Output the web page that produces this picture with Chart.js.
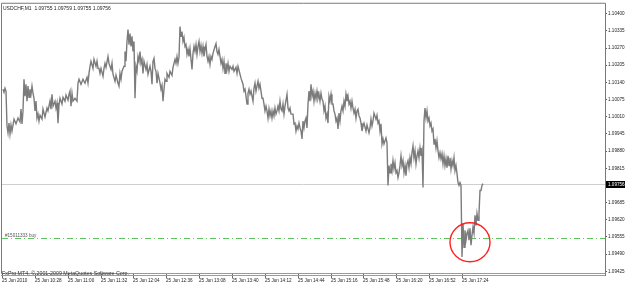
<!DOCTYPE html>
<html><head><meta charset="utf-8">
<script src="https://cdn.jsdelivr.net/npm/chart.js@4.4.0/dist/chart.umd.min.js"></script>
<style>html,body{margin:0;padding:0;background:#fff;overflow:hidden}</style>
</head><body>
<canvas id="c" width="625" height="287"></canvas>
<script>
// ---------- data ----------
const symbolTitle = "USDCHF,M1  1.09755 1.09759 1.09755 1.09756";
const copyrightText = "FxPro MT4, \u00a9 2001-2009 MetaQuotes Software Corp.";
const timeLabels = ["25 Jun 2010","25 Jun 10:28","25 Jun 11:00","25 Jun 11:32","25 Jun 12:04","25 Jun 12:36","25 Jun 13:08","25 Jun 13:40","25 Jun 14:12","25 Jun 14:44","25 Jun 15:16","25 Jun 15:48","25 Jun 16:20","25 Jun 16:52","25 Jun 17:24"];
const timeLabelBars = [2,35,68,101,133,166,199,232,265,298,331,363,396,429,462];
const priceTicks = [1.09425,1.09490,1.09555,1.09620,1.09685,1.09750,1.09815,1.09880,1.09945,1.10010,1.10075,1.10140,1.10205,1.10270,1.10335,1.10400];
const currentPrice = 1.09756;
const orderPrice = 1.09552;
const orderLabel = "#15011333 buy";
const highlightPoint = {bar: 470, price: 1.09535};
// [bar, price] zig-zag of the M1 highs/lows
const usdchfM1 = [
[3,1.10114],[4,1.10103],[5,1.10118],[6,1.10107],[7,1.09975],[8,1.09949],[9,1.09986],[10,1.09945],[11,1.09979],[12,1.09956],
[14,1.10001],[16,1.09983],[18,1.10005],[20,1.09990],[21,1.10039],[22,1.09983],[23,1.10032],[24,1.10152],[25,1.10088],[26,1.10133],
[27,1.10069],[28,1.10126],[29,1.10084],[30,1.10114],[31,1.10095],[32,1.10126],[33,1.10099],[34,1.10080],[35,1.10032],[36,1.10069],
[37,1.10005],[38,1.10020],[39,1.09994],[40,1.10016],[42,1.10001],[43,1.10039],[45,1.10009],[47,1.10043],[48,1.10032],[50,1.10069],
[51,1.10039],[52,1.10095],[53,1.10050],[55,1.10069],[56,1.10043],[57,1.10062],[58,1.09986],[59,1.10054],[60,1.10080],[62,1.10058],
[63,1.10084],[65,1.10069],[66,1.10092],[68,1.10073],[69,1.10095],[70,1.10107],[71,1.10050],[72,1.10099],[73,1.10069],[75,1.10080],
[77,1.10069],[78,1.10137],[79,1.10152],[81,1.10133],[83,1.10152],[85,1.10137],[87,1.10159],[88,1.10137],[89,1.10174],[90,1.10201],
[91,1.10220],[93,1.10193],[94,1.10227],[96,1.10201],[97,1.10220],[98,1.10193],[99,1.10193],[100,1.10174],[101,1.10193],[103,1.10163],
[104,1.10193],[105,1.10212],[106,1.10197],[108,1.10238],[109,1.10212],[111,1.10189],[112,1.10212],[113,1.10171],[115,1.10144],[116,1.10167],
[118,1.10137],[119,1.10126],[120,1.10174],[121,1.10152],[122,1.10182],[124,1.10201],[125,1.10257],[126,1.10220],[127,1.10295],[128,1.10340],
[129,1.10283],[130,1.10325],[131,1.10276],[132,1.10314],[133,1.10257],[134,1.10295],[135,1.10080],[136,1.10201],[137,1.10182],[138,1.10238],
[139,1.10220],[140,1.10257],[141,1.10212],[142,1.10227],[143,1.10174],[144,1.10220],[146,1.10189],[147,1.10208],[148,1.10171],[150,1.10201],
[151,1.10182],[152,1.10133],[153,1.10220],[154,1.10231],[155,1.10193],[156,1.10182],[157,1.10137],[158,1.10174],[160,1.10137],[161,1.10114],
[162,1.10129],[163,1.10069],[164,1.10114],[165,1.10152],[166,1.10144],[167,1.10174],[169,1.10159],[170,1.10182],[172,1.10167],[173,1.10197],
[175,1.10227],[176,1.10212],[177,1.10238],[178,1.10212],[179,1.10235],[180,1.10351],[181,1.10314],[182,1.10332],[183,1.10295],[184,1.10310],
[185,1.10276],[186,1.10283],[187,1.10246],[188,1.10265],[189,1.10238],[190,1.10268],[192,1.10189],[193,1.10250],[194,1.10276],[195,1.10257],
[196,1.10283],[197,1.10246],[198,1.10276],[199,1.10295],[200,1.10257],[201,1.10280],[202,1.10250],[203,1.10276],[204,1.10238],[205,1.10265],
[206,1.10283],[207,1.10238],[208,1.10220],[209,1.10238],[210,1.10208],[211,1.10238],[212,1.10227],[213,1.10250],[215,1.10276],[216,1.10287],
[217,1.10257],[218,1.10246],[219,1.10265],[220,1.10238],[221,1.10212],[222,1.10227],[223,1.10193],[224,1.10220],[225,1.10174],[226,1.10212],
[227,1.10189],[228,1.10212],[229,1.10182],[230,1.10201],[232,1.10189],[233,1.10201],[234,1.10182],[236,1.10197],[237,1.10174],[238,1.10201],
[240,1.10171],[241,1.10156],[242,1.10144],[243,1.10133],[244,1.10107],[245,1.10114],[246,1.10088],[247,1.10058],[248,1.10099],[249,1.10114],
[250,1.10095],[251,1.10107],[252,1.10088],[253,1.10069],[254,1.10118],[255,1.10137],[256,1.10107],[257,1.10126],[258,1.10144],[259,1.10118],
[260,1.10133],[261,1.10107],[262,1.10080],[263,1.10080],[264,1.10058],[265,1.10032],[266,1.10050],[267,1.10032],[268,1.10005],[269,1.10039],
[270,1.10013],[271,1.10032],[272,1.10005],[273,1.10032],[274,1.10013],[275,1.10043],[276,1.10020],[277,1.10032],[278,1.10050],[279,1.10032],
[280,1.10069],[281,1.10039],[282,1.10032],[283,1.10058],[284,1.10020],[285,1.10050],[287,1.10095],[288,1.10043],[289,1.10032],[290,1.10043],
[291,1.10020],[293,1.10020],[294,1.09983],[295,1.09986],[296,1.09956],[297,1.09975],[298,1.09964],[299,1.09986],[300,1.09968],[301,1.09956],
[302,1.09926],[303,1.09994],[304,1.09968],[305,1.09994],[306,1.10005],[307,1.09968],[308,1.10058],[309,1.10107],[310,1.10069],[311,1.10133],
[312,1.10088],[313,1.10107],[314,1.10069],[315,1.10099],[316,1.10077],[317,1.10107],[318,1.10080],[319,1.10095],[320,1.10069],[321,1.10099],
[322,1.10077],[323,1.10069],[324,1.10032],[325,1.10050],[326,1.10005],[327,1.10020],[328,1.09986],[329,1.10088],[330,1.10069],[331,1.10095],
[332,1.10058],[333,1.10058],[334,1.10032],[335,1.10020],[336,1.09994],[337,1.10005],[338,1.09964],[339,1.10024],[340,1.09994],[341,1.10032],
[342,1.10050],[343,1.10032],[344,1.10069],[345,1.10050],[346,1.10095],[347,1.10069],[348,1.10088],[349,1.10058],[350,1.10069],[351,1.10043],
[352,1.10069],[353,1.10043],[354,1.10024],[355,1.10039],[356,1.10005],[357,1.10032],[358,1.10039],[359,1.10013],[360,1.10005],[361,1.09986],
[362,1.09956],[363,1.09975],[364,1.09986],[366,1.09956],[367,1.09979],[369,1.09949],[370,1.09968],[371,1.10001],[372,1.09975],[373,1.09994],
[374,1.10024],[376,1.10001],[377,1.10016],[378,1.09986],[379,1.09994],[380,1.09956],[381,1.09983],[382,1.09907],[383,1.09926],[384,1.09907],
[386,1.09930],[387,1.09911],[388,1.09750],[389,1.09825],[390,1.09798],[391,1.09832],[392,1.09806],[393,1.09844],[394,1.09813],[395,1.09836],
[396,1.09798],[397,1.09806],[398,1.09780],[399,1.09798],[400,1.09825],[401,1.09862],[402,1.09825],[403,1.09844],[404,1.09798],[405,1.09825],
[406,1.09787],[407,1.09832],[408,1.09844],[409,1.09817],[410,1.09855],[411,1.09832],[412,1.09874],[413,1.09900],[414,1.09855],[415,1.09881],
[416,1.09832],[417,1.09862],[418,1.09881],[419,1.09855],[420,1.09892],[421,1.09862],[422,1.09881],[423,1.09742],[424,1.09994],[425,1.10043],
[426,1.10005],[427,1.10032],[428,1.09994],[429,1.10005],[430,1.09975],[431,1.09986],[432,1.09956],[433,1.09964],[434,1.09907],[435,1.09926],
[436,1.09892],[437,1.09919],[438,1.09881],[439,1.09855],[440,1.09874],[441,1.09851],[442,1.09870],[443,1.09832],[444,1.09862],[445,1.09825],
[446,1.09851],[447,1.09817],[448,1.09862],[449,1.09825],[450,1.09855],[451,1.09813],[452,1.09844],[453,1.09825],[454,1.09855],[455,1.09806],
[456,1.09825],[457,1.09795],[458,1.09761],[459,1.09750],[460,1.09761],[461,1.09750],[462,1.09479],[463,1.09607],[464,1.09516],[465,1.09580],
[466,1.09543],[467,1.09569],[468,1.09580],[469,1.09543],[470,1.09588],[471,1.09524],[472,1.09562],[473,1.09592],[474,1.09569],[475,1.09637],
[476,1.09599],[477,1.09644],[478,1.09618],[479,1.09644],[480,1.09731],[481,1.09731],[482,1.09750],[483,1.09757]
];

// ---------- drawing ----------
const FONT = "'Liberation Sans', Arial, sans-serif";

const mtOverlay = {
  id: 'mtOverlay',
  beforeDatasetsDraw(chart) {
    const {ctx, chartArea: a, scales: {y}} = chart;
    ctx.save();
    // current bid line
    const yc = Math.round(y.getPixelForValue(currentPrice)) + 0.5;
    ctx.strokeStyle = '#cfcfcf'; ctx.lineWidth = 1;
    ctx.beginPath(); ctx.moveTo(a.left, yc); ctx.lineTo(a.right, yc); ctx.stroke();
    // order line
    const yo = Math.round(y.getPixelForValue(orderPrice)) + 0.5;
    ctx.strokeStyle = '#5fc45f'; ctx.setLineDash([6,3,1,3]);
    ctx.beginPath(); ctx.moveTo(a.left, yo); ctx.lineTo(a.right, yo); ctx.stroke();
    ctx.setLineDash([]);
    ctx.fillStyle = '#555'; ctx.font = `4.6px ${FONT}`;
    ctx.textBaseline = 'bottom'; ctx.textAlign = 'left';
    ctx.fillText(orderLabel, a.left + 3, yo);
    ctx.restore();
  },
  afterDraw(chart) {
    const {ctx, chartArea: a, scales: {x, y}} = chart;
    ctx.save();
    // frame
    ctx.strokeStyle = '#7a7a7a'; ctx.lineWidth = 1;
    ctx.beginPath();
    ctx.moveTo(a.left - 0.5, a.bottom); ctx.lineTo(a.left - 0.5, a.top - 0.5); ctx.lineTo(a.right + 0.5, a.top - 0.5); ctx.lineTo(a.right + 0.5, a.bottom + 2);
    ctx.stroke();
    ctx.strokeStyle = '#9a9a9a';
    ctx.beginPath(); ctx.moveTo(a.left - 1, a.bottom - 0.5); ctx.lineTo(a.right, a.bottom - 0.5); ctx.stroke();
    ctx.beginPath(); ctx.moveTo(a.left - 1, a.bottom + 1.5); ctx.lineTo(a.right, a.bottom + 1.5); ctx.stroke();
    // red circle
    const cx = x.getPixelForValue(highlightPoint.bar), cy = y.getPixelForValue(highlightPoint.price);
    ctx.strokeStyle = '#ff2020'; ctx.lineWidth = 1.4;
    ctx.beginPath(); ctx.ellipse(cx, cy, 20, 19.5, 0, 0, Math.PI * 2); ctx.stroke();
    // title
    ctx.fillStyle = '#222'; ctx.font = `5px ${FONT}`;
    ctx.textBaseline = 'middle'; ctx.textAlign = 'left';
    ctx.fillText(symbolTitle, a.left + 1, a.top + 4.5);
    // copyright
    ctx.fillStyle = '#333'; ctx.font = `5.3px ${FONT}`;
    ctx.fillText(copyrightText, a.left, a.bottom - 0.5);
    // price box
    const yp = y.getPixelForValue(currentPrice);
    ctx.fillStyle = '#000';
    ctx.fillRect(a.right + 1, Math.round(yp) - 3, chart.width - a.right - 1, 7);
    ctx.fillStyle = '#fff'; ctx.font = `4.6px ${FONT}`;
    ctx.fillText(currentPrice.toFixed(5), a.right + 3, Math.round(yp) + 0.5);
    ctx.restore();
  }
};

new Chart(document.getElementById('c'), {
  type: 'line',
  data: {
    datasets: [{
      data: usdchfM1.map(([b, p]) => ({x: b, y: p})),
      borderColor: '#7c7c7c',
      borderWidth: 1.4,
      pointRadius: 0,
      tension: 0,
      fill: false
    }]
  },
  options: {
    responsive: false,
    animation: false,
    devicePixelRatio: 1,
    layout: {padding: {left: 2, top: 2, right: 0, bottom: 0}},
    plugins: {legend: {display: false}, tooltip: {enabled: false}},
    scales: {
      x: {
        type: 'linear', min: 2, max: 605,
        afterBuildTicks: s => { s.ticks = timeLabelBars.map(v => ({value: v})); },
        afterFit: s => { s.height = 13; },
        grid: {display: true, drawOnChartArea: false, drawTicks: true, tickLength: 4, color: '#666'},
        border: {display: false},
        ticks: {
          autoSkip: false, maxRotation: 0, align: 'start', padding: 0,
          color: '#222', font: {family: FONT, size: 4.6},
          callback: (v, i) => timeLabels[i]
        }
      },
      y: {
        position: 'right', min: 1.094149, max: 1.104376,
        afterBuildTicks: s => { s.ticks = priceTicks.map(v => ({value: v})); },
        afterFit: s => { s.width = 20; },
        grid: {display: true, drawOnChartArea: false, drawTicks: true, tickLength: 2, color: '#555'},
        border: {display: false},
        ticks: {
          padding: 1, color: '#222', font: {family: FONT, size: 4.6},
          callback: v => Number(v).toFixed(5)
        }
      }
    }
  },
  plugins: [mtOverlay]
});
</script>
</body></html>
